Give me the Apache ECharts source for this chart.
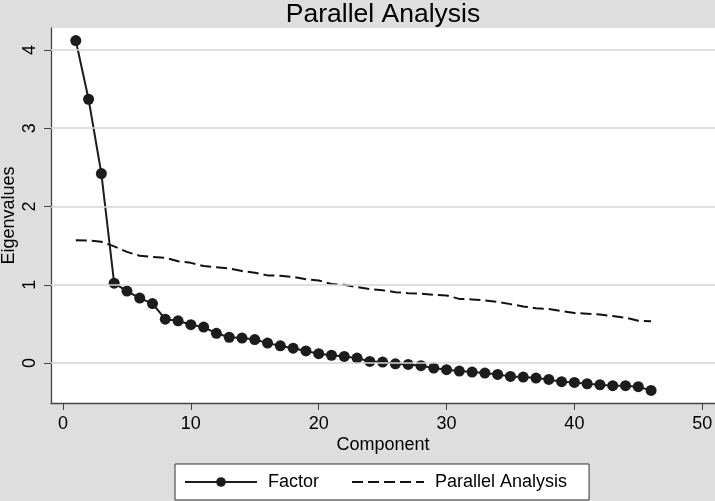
<!DOCTYPE html>
<html>
<head>
<meta charset="utf-8">
<script src="https://cdn.jsdelivr.net/npm/echarts@6/dist/echarts.min.js"></script>
<style>
html,body{margin:0;padding:0;background:#dedede;}
#c{width:715px;height:501px;}
</style>
</head>
<body>
<div id="c"></div>
<script>
var components = [1,2,3,4,5,6,7,8,9,10,11,12,13,14,15,16,17,18,19,20,21,22,23,24,25,26,27,28,29,30,31,32,33,34,35,36,37,38,39,40,41,42,43,44,45,46];
var factorValues = [4.12,3.37,2.42,1.02,0.92,0.83,0.76,0.56,0.54,0.49,0.46,0.38,0.33,0.32,0.30,0.255,0.22,0.19,0.155,0.12,0.10,0.085,0.064,0.021,0.013,-0.009,-0.017,-0.034,-0.064,-0.085,-0.102,-0.115,-0.128,-0.145,-0.17,-0.179,-0.191,-0.209,-0.238,-0.247,-0.264,-0.277,-0.289,-0.289,-0.302,-0.349];
var parallelValues = [1.57,1.565,1.55,1.49,1.42,1.37,1.355,1.345,1.30,1.28,1.24,1.225,1.21,1.175,1.155,1.12,1.115,1.10,1.07,1.055,1.01,1.00,0.97,0.945,0.93,0.906,0.893,0.885,0.873,0.864,0.82,0.813,0.80,0.78,0.753,0.724,0.70,0.69,0.664,0.64,0.63,0.62,0.60,0.58,0.54,0.535];
var xTicks = [0,10,20,30,40,50];
var yTicks = [0,1,2,3,4];
var seriesNames = ['Factor','Parallel Analysis'];

var FONT = '"Liberation Sans", Arial, Helvetica, sans-serif';

function pairs(xs, ys){ return xs.map(function(x,i){ return [x, ys[i]]; }); }

var chart = echarts.init(document.getElementById('c'), null, {renderer:'canvas'});
chart.setOption({
  backgroundColor: '#dedede',
  animation: false,
  textStyle: {fontFamily: FONT},
  title: {
    text: 'Parallel Analysis',
    left: 378, top: -4, textAlign: 'center',
    textStyle: {fontFamily: FONT, fontSize: 26.5, fontWeight: 'normal', color: '#000'}
  },
  grid: {
    left: 51, top: 28, right: 0, bottom: 98,
    show: true, backgroundColor: '#ffffff', borderWidth: 0,
    containLabel: false, outerBoundsMode: 'none'
  },
  legend: {
    data: [
      {name: seriesNames[0]},
      {name: seriesNames[1], itemStyle: {color: 'rgba(0,0,0,0)', opacity: 0, borderWidth: 0}}
    ],
    left: 175, top: 464,
    padding: [9, 22, 9, 9],
    itemGap: 32,
    itemWidth: 72, itemHeight: 12,
    backgroundColor: '#ffffff',
    borderColor: '#333333', borderWidth: 1,
    borderRadius: 0,
    selectedMode: false,
    textStyle: {fontFamily: FONT, fontSize: 18, color: '#000', padding: [0,0,0,6]}
  },
  xAxis: {
    type: 'value',
    min: -0.94, max: 51.0,
    name: 'Component', nameLocation: 'middle', nameGap: 33, nameMoveOverlap: false,
    nameTextStyle: {fontFamily: FONT, fontSize: 18, color: '#000'},
    axisLine: {show: true, onZero: false, lineStyle: {color: '#444', width: 1.3}},
    axisTick: {show: true, length: 7, customValues: xTicks, lineStyle: {color: '#444', width: 1}},
    axisLabel: {customValues: xTicks, margin: 12, fontFamily: FONT, fontSize: 18, color: '#000'},
    splitLine: {show: false}
  },
  yAxis: {
    type: 'value',
    min: -0.51, max: 4.28,
    name: 'Eigenvalues', nameLocation: 'middle', nameGap: 33, nameMoveOverlap: false,
    nameTextStyle: {fontFamily: FONT, fontSize: 18, color: '#000'},
    axisLine: {show: true, onZero: false, lineStyle: {color: '#444', width: 1.3}},
    axisTick: {show: true, length: 7, customValues: yTicks, lineStyle: {color: '#444', width: 1}},
    axisLabel: {customValues: yTicks, rotate: 90, margin: 12, fontFamily: FONT, fontSize: 18, color: '#000'},
    splitLine: {show: false}
  },
  series: [
    {
      type: 'line', z: 1, data: [], silent: true,
      markLine: {
        silent: true, symbol: 'none', label: {show: false},
        lineStyle: {color: '#d6d6d6', type: 'solid', width: 1.5},
        data: yTicks.map(function(v){ return {yAxis: v}; })
      }
    },
    {
      name: 'Factor', type: 'line', z: 3,
      data: pairs(components, factorValues),
      symbol: 'circle', symbolSize: 11, showSymbol: true,
      itemStyle: {color: '#1c1c1c'},
      lineStyle: {color: '#1c1c1c', width: 2}
    },
    {
      name: 'Parallel Analysis', type: 'line', z: 2,
      data: pairs(components, parallelValues),
      symbol: 'none',
      itemStyle: {color: '#111'},
      lineStyle: {color: '#111', width: 2, type: [11, 5]}
    }
  ]
});
</script>
</body>
</html>
